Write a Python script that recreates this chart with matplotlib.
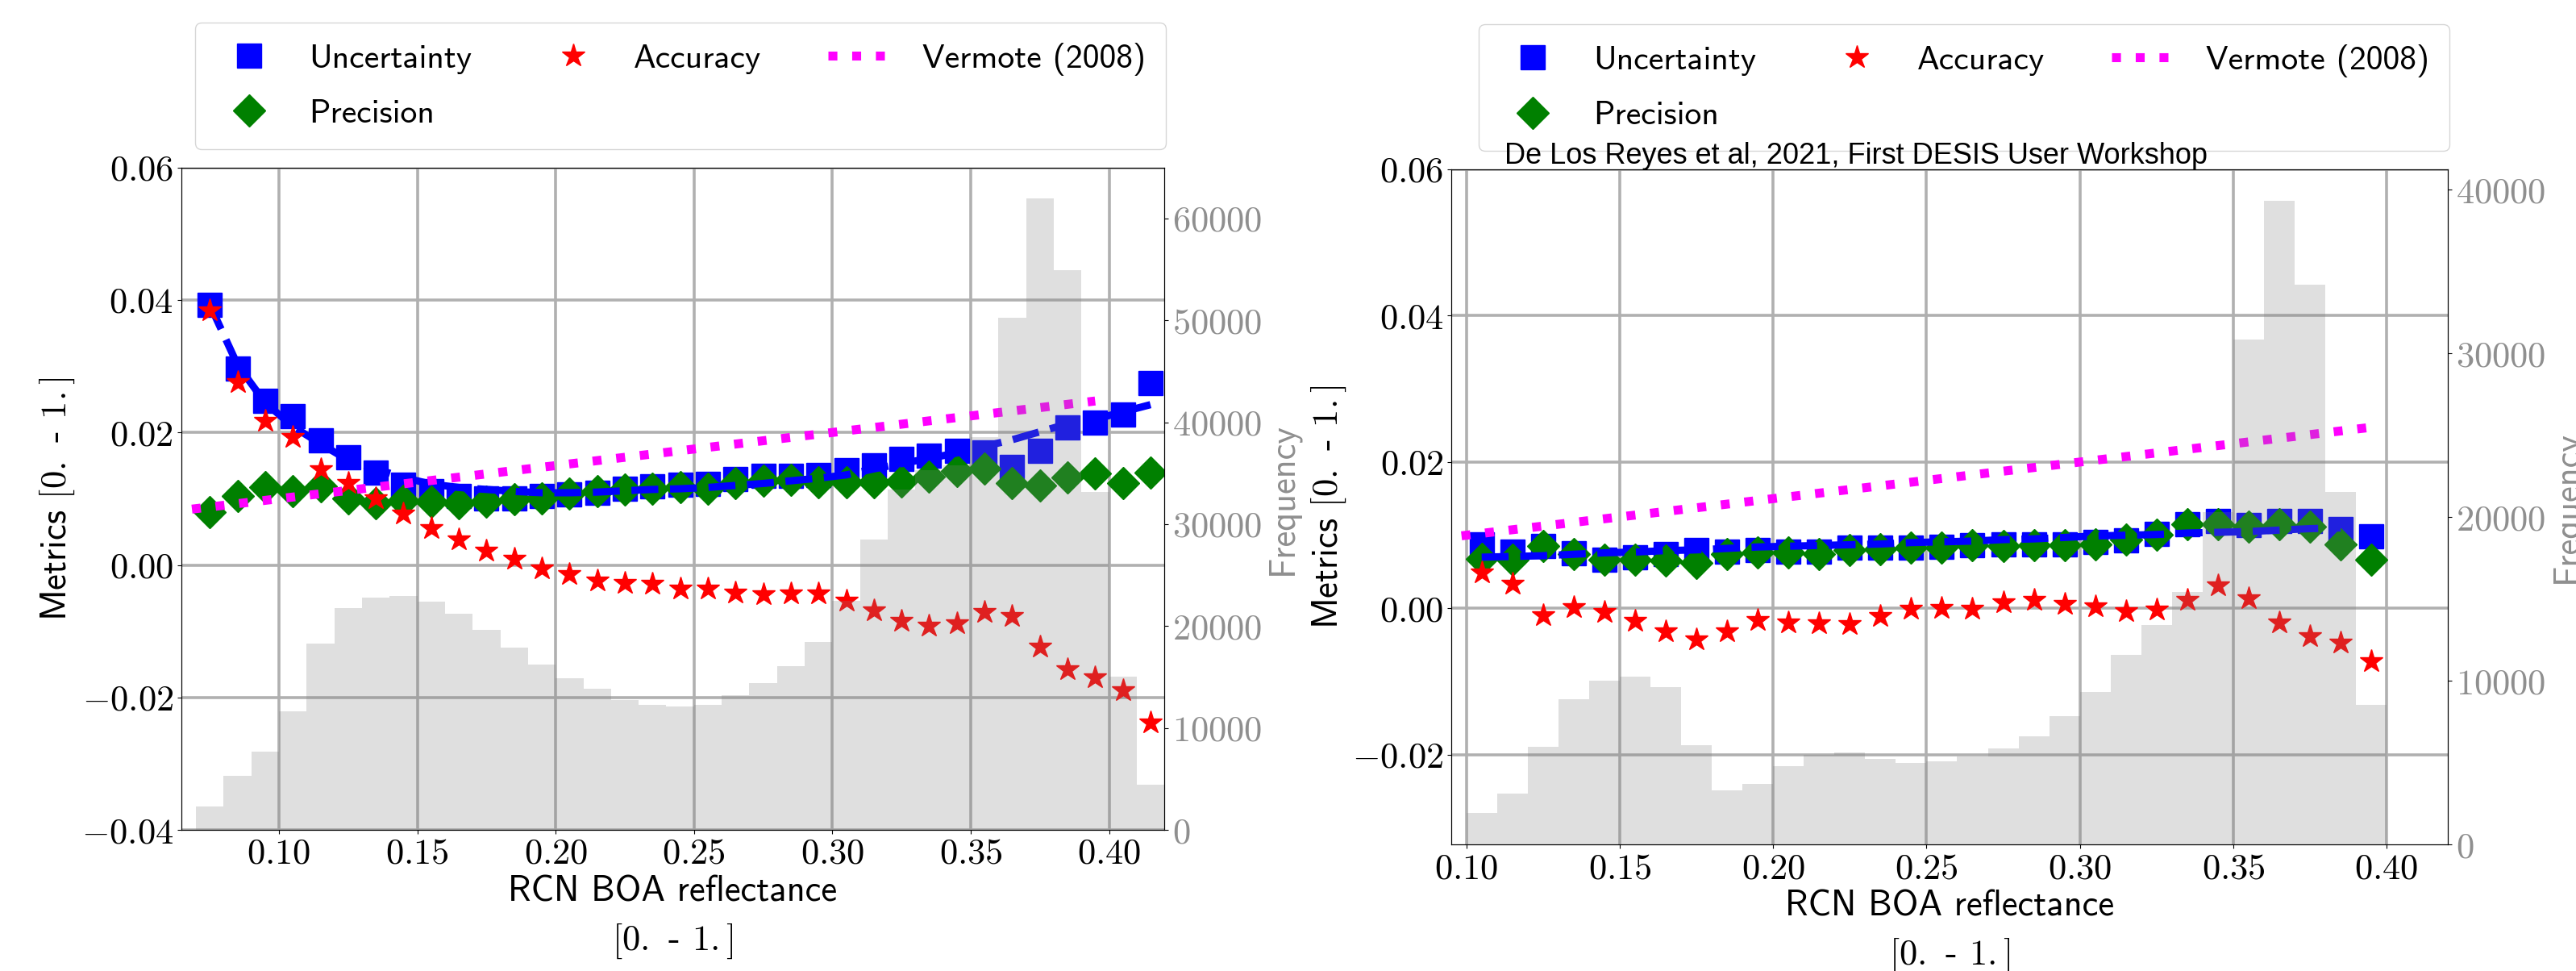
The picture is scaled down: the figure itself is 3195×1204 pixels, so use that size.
import matplotlib
matplotlib.use("Agg")
import matplotlib.pyplot as plt
from matplotlib.ticker import FuncFormatter, MultipleLocator

plt.rcParams['font.family'] = ['cmss10', 'DejaVu Sans']
plt.rcParams['mathtext.fontset'] = 'cm'
plt.rcParams['axes.formatter.use_mathtext'] = True
plt.rcParams['axes.unicode_minus'] = True

# ---------------- data: left panel ----------------
x_left = [0.075, 0.085, 0.095, 0.105, 0.115, 0.125, 0.135, 0.145, 0.155, 0.165,
          0.175, 0.185, 0.195, 0.205, 0.215, 0.225, 0.235, 0.245, 0.255, 0.265,
          0.275, 0.285, 0.295, 0.305, 0.315, 0.325, 0.335, 0.345, 0.355, 0.365,
          0.375, 0.385, 0.395, 0.405, 0.415]
uncert_left = [0.0393, 0.0297, 0.0248, 0.0225, 0.0188, 0.0162, 0.0139, 0.0121, 0.0111, 0.0104,
               0.0101, 0.0101, 0.0104, 0.0106, 0.0109, 0.0115, 0.0119, 0.0121, 0.0122, 0.0130,
               0.0134, 0.0135, 0.0136, 0.0143, 0.0150, 0.0160, 0.0165, 0.0172, 0.0170, 0.0148,
               0.0172, 0.0207, 0.0215, 0.0227, 0.0274]
uncert_fit_left = [0.0393, 0.0302, 0.0245, 0.0209, 0.0183, 0.0158, 0.0145, 0.0132, 0.0122, 0.0117,
                   0.0114, 0.0111, 0.0109, 0.0109, 0.0110, 0.0112, 0.0114, 0.0115, 0.0117, 0.0120,
                   0.0123, 0.0127, 0.0131, 0.0136, 0.0145, 0.0153, 0.0161, 0.0169, 0.0179, 0.0189,
                   0.0201, 0.0213, 0.0220, 0.0231, 0.0242]
accuracy_left = [0.0384, 0.0276, 0.0217, 0.0193, 0.0144, 0.0123, 0.0100, 0.0077, 0.0055, 0.0038,
                 0.0021, 0.0009, -0.0005, -0.0014, -0.0024, -0.0027, -0.0029, -0.0036, -0.0036, -0.0042,
                 -0.0045, -0.0043, -0.0043, -0.0054, -0.0069, -0.0084, -0.0092, -0.0088, -0.0071, -0.0077,
                 -0.0123, -0.0158, -0.0170, -0.0189, -0.0238]
precision_left = [0.0080, 0.0104, 0.0117, 0.0112, 0.0119, 0.0101, 0.0093, 0.0097, 0.0096, 0.0093,
                  0.0096, 0.0099, 0.0101, 0.0108, 0.0112, 0.0114, 0.0115, 0.0117, 0.0115, 0.0123,
                  0.0127, 0.0128, 0.0125, 0.0125, 0.0125, 0.0126, 0.0133, 0.0142, 0.0146, 0.0124,
                  0.0120, 0.0132, 0.0138, 0.0123, 0.0139]
freq_left = [2265, 5290, 7650, 11640, 18320, 21730, 22780, 22950, 22400, 21220,
             19620, 17860, 16260, 14920, 13820, 12730, 12310, 12150, 12310, 13240,
             14410, 16090, 18480, 22480, 28490, 33430, 35300, 35800, 38580, 50220,
             61990, 54890, 33200, 15040, 4410]

# ---------------- data: right panel ----------------
x_right = [0.105, 0.115, 0.125, 0.135, 0.145, 0.155, 0.165, 0.175, 0.185, 0.195,
           0.205, 0.215, 0.225, 0.235, 0.245, 0.255, 0.265, 0.275, 0.285, 0.295,
           0.305, 0.315, 0.325, 0.335, 0.345, 0.355, 0.365, 0.375, 0.385, 0.395]
uncert_right = [0.0087, 0.0078, 0.0085, 0.0075, 0.0067, 0.0070, 0.0074, 0.0080, 0.0078, 0.0080,
                0.0078, 0.0078, 0.0083, 0.0083, 0.0083, 0.0084, 0.0086, 0.0087, 0.0087, 0.0088,
                0.0091, 0.0093, 0.0102, 0.0115, 0.0120, 0.0114, 0.0120, 0.0120, 0.0108, 0.0099]
uncert_fit_right = [0.0070, 0.0071, 0.0072, 0.0074, 0.0076, 0.0077, 0.0079, 0.0080, 0.0082, 0.0084,
                    0.0085, 0.0086, 0.0087, 0.0088, 0.0090, 0.0091, 0.0092, 0.0094, 0.0095, 0.0097,
                    0.0099, 0.0100, 0.0101, 0.0103, 0.0104, 0.0105, 0.0107, 0.0109, 0.0110]
accuracy_right = [0.0049, 0.0034, -0.0010, 0.0002, -0.0005, -0.0017, -0.0032, -0.0042, -0.0031, -0.0016,
                  -0.0019, -0.0020, -0.0022, -0.0011, -0.0001, 0.0000, -0.0001, 0.0008, 0.0012, 0.0006,
                  0.0003, -0.0004, -0.0002, 0.0011, 0.0031, 0.0014, -0.0019, -0.0038, -0.0047, -0.0072]
precision_right = [0.0068, 0.0067, 0.0085, 0.0074, 0.0067, 0.0067, 0.0065, 0.0062, 0.0074, 0.0077,
                   0.0077, 0.0074, 0.0080, 0.0081, 0.0083, 0.0083, 0.0086, 0.0085, 0.0086, 0.0086,
                   0.0088, 0.0094, 0.0101, 0.0115, 0.0115, 0.0112, 0.0115, 0.0112, 0.0087, 0.0067]
freq_right = [1935, 3124, 6007, 8865, 10000, 10266, 9605, 6086, 3312, 3707,
              4817, 5504, 5637, 5242, 4975, 5109, 5375, 5874, 6614, 7858,
              9314, 11585, 13435, 15444, 20300, 30860, 39320, 34190, 21555, 8520]

# Vermote (2008) reference line end points
vermote_x = [0.06, 0.395]
vermote_y = [0.0080, 0.02475]

labels = ['Uncertainty', 'Precision', 'Accuracy', 'Vermote (2008)']
bin_width = 0.01

TICK_FS = 32
LABEL_FS = 32
LEG_FS = 30
FREQ_COLOR = '#8f8f8f'

metric_fmt = FuncFormatter(lambda v, p: r'$%.2f$' % v)
freq_fmt = FuncFormatter(lambda v, p: r'$%d$' % int(round(v)))

fig = plt.figure(figsize=(31.95, 12.04), dpi=100)


def panel(rect, x, unc, fit, acc, prec, freq, xlim, ylim, flim, fstep):
    ax = fig.add_axes(rect)
    ax.set_axisbelow(True)
    ax.grid(True, color='#b0b0b0', linewidth=2.6)
    h_u, = ax.plot(x, unc, linestyle='none', marker='s', markersize=22, color='blue')
    h_p, = ax.plot(x, prec, linestyle='none', marker='D', markersize=20, color='green')
    ax.plot(x[:len(fit)], fit, linestyle='--', linewidth=6.5, color='blue')
    h_a, = ax.plot(x, acc, linestyle='none', marker='*', markersize=21, color='red')
    h_v, = ax.plot(vermote_x, vermote_y, linestyle=':', linewidth=8, color='magenta')
    ax.set_xlim(*xlim)
    ax.set_ylim(*ylim)
    ax.xaxis.set_major_locator(MultipleLocator(0.05))
    ax.yaxis.set_major_locator(MultipleLocator(0.02))
    ax.xaxis.set_major_formatter(metric_fmt)
    ax.yaxis.set_major_formatter(metric_fmt)
    ax.tick_params(labelsize=TICK_FS)
    ax.set_xlabel('RCN BOA reflectance\n$[0.$ - $1.]$', fontsize=LABEL_FS, linespacing=1.45)
    ax.set_ylabel('Metrics $[0.$ - $1.]$', fontsize=LABEL_FS)

    ax2 = ax.twinx()
    ax2.bar(x, freq, width=bin_width, color='gray', alpha=0.25, linewidth=0)
    ax2.set_ylim(*flim)
    ax2.yaxis.set_major_locator(MultipleLocator(fstep))
    ax2.yaxis.set_major_formatter(freq_fmt)
    ax2.tick_params(labelsize=TICK_FS, labelcolor=FREQ_COLOR)
    ax2.set_ylabel('Frequency', fontsize=LABEL_FS, color=FREQ_COLOR)
    return ax, ax2, [h_u, h_p, h_a, h_v]


leg_kw = dict(ncol=3, loc='lower right', borderaxespad=0, fontsize=LEG_FS,
              labelspacing=0.75, borderpad=0.6)

axL, axL2, handles = panel([0.0703, 0.1453, 0.3817, 0.6822], x_left, uncert_left, uncert_fit_left,
                           accuracy_left, precision_left, freq_left,
                           (0.0646, 0.420), (-0.04, 0.06), (0, 65000), 10000)
axL2.legend(handles, labels, bbox_to_anchor=(1.0016, 1.0277), **leg_kw)

axR, axR2, handlesR = panel([0.5634, 0.1300, 0.3869, 0.6956], x_right, uncert_right, uncert_fit_right,
                            accuracy_right, precision_right, freq_right,
                            (0.0951, 0.420), (-0.0323, 0.06), (0, 41250), 10000)
axR2.legend(handlesR, labels, bbox_to_anchor=(1.0016, 1.0269), **leg_kw)

fig.text(0.584, 0.8314, 'De Los Reyes et al, 2021, First DESIS User Workshop',
         fontsize=26, family=['Liberation Sans', 'DejaVu Sans'], va='baseline', ha='left', zorder=10)

fig.savefig('out.png', dpi=100)
